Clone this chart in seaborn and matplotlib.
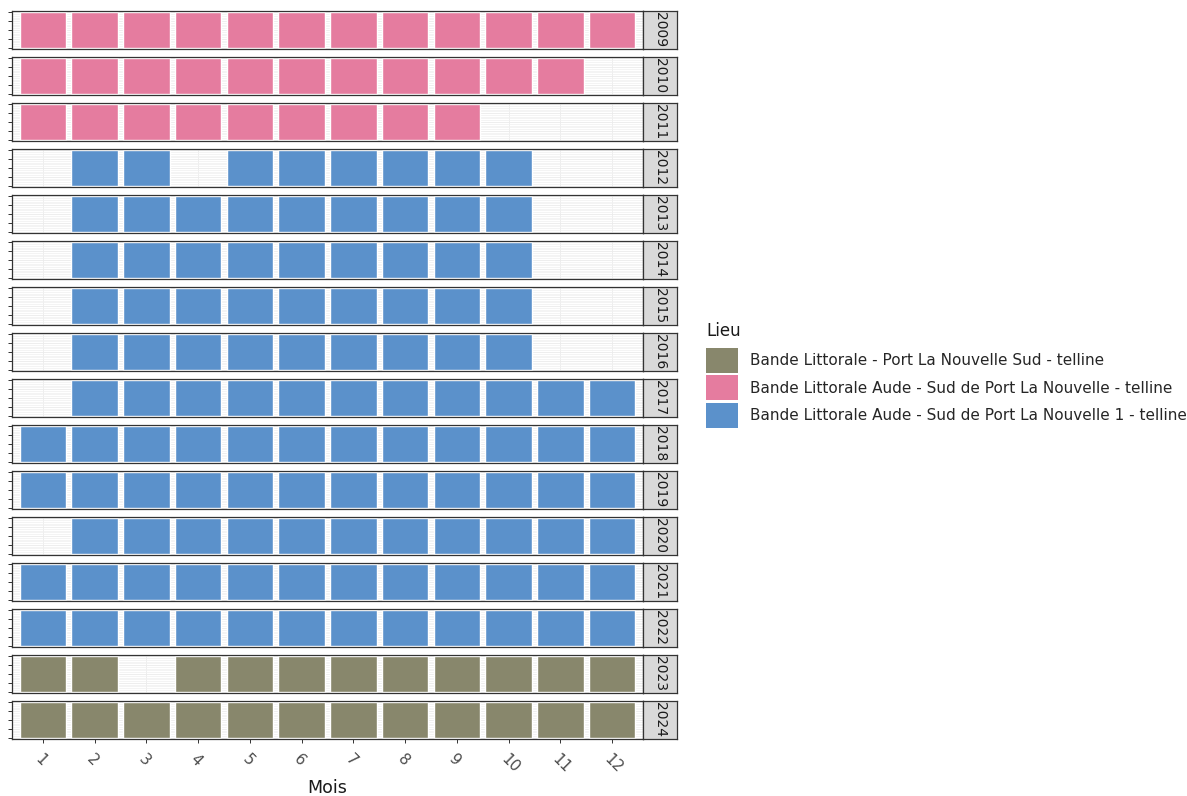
import pandas as pd
import numpy as np
import matplotlib.pyplot as plt
import seaborn as sns
from matplotlib.patches import Patch
from matplotlib.ticker import MultipleLocator


# Data

years = [2009, 2010, 2011, 2012, 2013, 2014, 2015, 2016,
         2017, 2018, 2019, 2020, 2021, 2022, 2023, 2024]

lieux = [
    "Bande Littorale - Port La Nouvelle Sud - telline",
    "Bande Littorale Aude - Sud de Port La Nouvelle - telline",
    "Bande Littorale Aude - Sud de Port La Nouvelle 1 - telline",
]

lieu_by_year = [1, 1, 1, 2, 2, 2, 2, 2, 2, 2, 2, 2, 2, 2, 0, 0]

months_by_year = [
    [1, 2, 3, 4, 5, 6, 7, 8, 9, 10, 11, 12],
    [1, 2, 3, 4, 5, 6, 7, 8, 9, 10, 11],
    [1, 2, 3, 4, 5, 6, 7, 8, 9],
    [2, 3, 5, 6, 7, 8, 9, 10],
    [2, 3, 4, 5, 6, 7, 8, 9, 10],
    [2, 3, 4, 5, 6, 7, 8, 9, 10],
    [2, 3, 4, 5, 6, 7, 8, 9, 10],
    [2, 3, 4, 5, 6, 7, 8, 9, 10],
    [2, 3, 4, 5, 6, 7, 8, 9, 10, 11, 12],
    [1, 2, 3, 4, 5, 6, 7, 8, 9, 10, 11, 12],
    [1, 2, 3, 4, 5, 6, 7, 8, 9, 10, 11, 12],
    [2, 3, 4, 5, 6, 7, 8, 9, 10, 11, 12],
    [1, 2, 3, 4, 5, 6, 7, 8, 9, 10, 11, 12],
    [1, 2, 3, 4, 5, 6, 7, 8, 9, 10, 11, 12],
    [1, 2, 4, 5, 6, 7, 8, 9, 10, 11, 12],
    [1, 2, 3, 4, 5, 6, 7, 8, 9, 10, 11, 12],
]

months = list(range(1, 13))
colors = ["#88876C", "#E57C9F", "#5B91CB"]

rows = []
for yr, li, ms in zip(years, lieu_by_year, months_by_year):
    for m in ms:
        rows.append({"annee": yr, "mois": m, "lieu": lieux[li], "n": 1})
df = pd.DataFrame(rows)
palette = dict(zip(lieux, colors))


# Figure

sns.set_style("white")
plt.rcParams["font.family"] = ["DejaVu Sans"]

W, H = 1187, 796
fig = plt.figure(figsize=(W / 100, H / 100), dpi=100)

px_left, px_right = 12, 643
strip_w = 34
top0, step, ph = 11, 46, 38

for i, yr in enumerate(years):
    top = top0 + step * i
    y0 = 1 - (top + ph) / H
    ax = fig.add_axes([px_left / W, y0, (px_right - px_left) / W, ph / H])
    sub = df[df["annee"] == yr]
    sns.barplot(data=sub, x="mois", y="n", hue="lieu", order=months,
                hue_order=lieux, palette=palette, dodge=False, width=0.9,
                saturation=1, legend=False, ax=ax)
    ax.set_xlim(-0.6, 11.6)
    ax.set_ylim(-0.04, 1.04)
    ax.set_xlabel("")
    ax.set_ylabel("")

    ax.set_axisbelow(True)
    ax.set_yticks([0, 0.25, 0.5, 0.75, 1])
    ax.set_yticklabels([])
    ax.yaxis.set_minor_locator(MultipleLocator(0.05))
    ax.grid(True, which="major", axis="both", color="#EBEBEB", linewidth=0.6)
    ax.grid(True, which="minor", axis="y", color="#F0F0F0", linewidth=0.5)
    ax.tick_params(axis="y", which="major", left=True, length=3, width=0.7,
                   color="#333333")
    ax.tick_params(axis="y", which="minor", left=False)

    for sp in ax.spines.values():
        sp.set_color("#333333")
        sp.set_linewidth(0.9)

    if i == len(years) - 1:
        ax.tick_params(axis="x", bottom=True, length=3, width=0.7,
                       color="#333333", labelsize=11, labelcolor="#4D4D4D",
                       pad=6)
        ax.set_xticklabels([str(m) for m in months], rotation=-45,
                           ha="left", va="top", rotation_mode="anchor")
    else:
        ax.tick_params(axis="x", bottom=False, labelbottom=False)

    sax = fig.add_axes([px_right / W, y0, strip_w / W, ph / H])
    sax.set_facecolor("#D9D9D9")
    sax.set_xticks([])
    sax.set_yticks([])
    for sp in sax.spines.values():
        sp.set_color("#333333")
        sp.set_linewidth(0.9)
    sax.text(0.5, 0.5, str(yr), rotation=270, ha="center", va="center",
             fontsize=10, color="#1A1A1A", transform=sax.transAxes)

fig.text((px_left + px_right) / 2 / W, 1 - 788 / H, "Mois",
         ha="center", va="center", fontsize=12.5, color="#1A1A1A")

# Legend
fig.text(706 / W, 1 - 331 / H, "Lieu", ha="left", va="center",
         fontsize=12, color="#1A1A1A")
handles = [Patch(facecolor=c, edgecolor="none") for c in colors]
fig.legend(handles, lieux, loc="upper left",
           bbox_to_anchor=(706 / W, 1 - 348 / H), frameon=False,
           fontsize=11, handlelength=2.1, handleheight=2.14,
           labelspacing=0.16, handletextpad=0.8,
           borderpad=0, borderaxespad=0)

plt.savefig("out.png", dpi=100)
